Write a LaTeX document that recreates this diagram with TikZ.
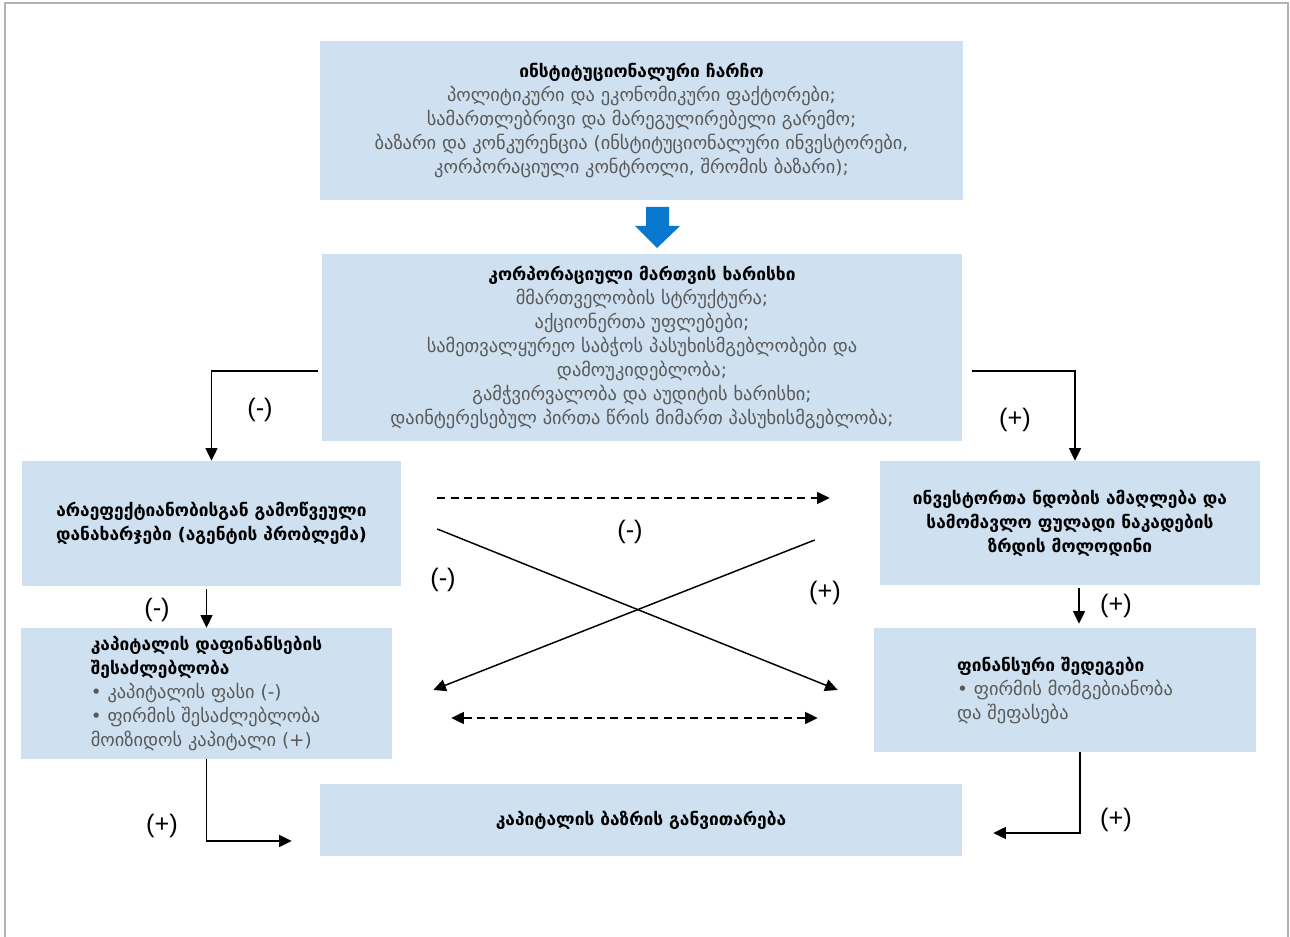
\documentclass[tikz,border=0pt]{standalone}
\usepackage{fontspec}
\setmainfont{Liberation Sans}
\newfontfamily\geo{DejaVu Sans}
\usetikzlibrary{arrows.meta,calc}
\definecolor{BoxBlue}{RGB}{207,224,241}
\definecolor{ArrowBlue}{RGB}{8,120,206}
\definecolor{BodyGray}{RGB}{89,89,89}

\begin{document}
\begin{tikzpicture}[x=0.75pt,y=0.75pt,yscale=-1,xscale=1,
		box/.style={fill=BoxBlue,inner sep=0pt,align=center,text=BodyGray,font=\geo\fontsize{13.8}{18}\selectfont},
		boldbox/.style={box,text=black,font=\geo\bfseries\fontsize{13}{18}\selectfont},
		arr/.style={line width=1.1pt,-{Triangle[length=9.5pt,width=9pt]}},
		dasharr/.style={arr,dash pattern=on 6pt off 4pt},
		sign/.style={inner sep=0pt,font=\fontsize{19}{22}\selectfont}]
		\useasboundingbox (0,0) rectangle (1290,937);

		% Thin gray frame round the page (bottom runs off)
		\draw[gray!60, line width=0.8pt] (5,937) -- (5,3) -- (1288,3) -- (1288,937);

		% Boxes
		\node[box, minimum width=482.25pt, minimum height=119.25pt] (frame) at (641.5,120.5) {{\bfseries\fontsize{13}{18}\selectfont\color{black}ინსტიტუციონალური ჩარჩო}\\
			პოლიტიკური და ეკონომიკური ფაქტორები;\\
			სამართლებრივი და მარეგულირებელი გარემო;\\
			ბაზარი და კონკურენცია (ინსტიტუციონალური ინვესტორები,\\
			კორპორაციული კონტროლი, შრომის ბაზარი);};
		\node[box, minimum width=480pt, minimum height=140.25pt] (quality) at (642,347.5) {{\bfseries\fontsize{13}{18}\selectfont\color{black}კორპორაციული მართვის ხარისხი}\\
			მმართველობის სტრუქტურა;\\
			აქციონერთა უფლებები;\\
			სამეთვალყურეო საბჭოს პასუხისმგებლობები და\\
			დამოუკიდებლობა;\\
			გამჭვირვალობა და აუდიტის ხარისხი;\\
			დაინტერესებულ პირთა წრის მიმართ პასუხისმგებლობა;};
		\node[boldbox, minimum width=284.25pt, minimum height=93.75pt] (costs) at (211.5,523.5) {არაეფექტიანობისგან გამოწვეული\\
			დანახარჯები (აგენტის პრობლემა)};
		\node[boldbox, minimum width=285pt, minimum height=93pt] (trust) at (1070,523) {ინვესტორთა ნდობის ამაღლება და\\
			სამომავლო ფულადი ნაკადების\\
			ზრდის მოლოდინი};
		\node[box, align=left, minimum width=278.25pt, minimum height=98.25pt] (funding) at (206.5,693.5) {{\bfseries\fontsize{13}{18}\selectfont\color{black}კაპიტალის დაფინანსების}\\
			{\bfseries\fontsize{13}{18}\selectfont\color{black}შესაძლებლობა}\\
			• კაპიტალის ფასი (-)\\
			• ფირმის შესაძლებლობა\\
			მოიზიდოს კაპიტალი (+)};
		\node[box, align=left, minimum width=286.5pt, minimum height=93pt] (results) at (1065,690) {{\bfseries\fontsize{13}{18}\selectfont\color{black}ფინანსური შედეგები}\\
			• ფირმის მომგებიანობა\\
			და შეფასება};
		\node[boldbox, minimum width=481.5pt, minimum height=54pt] (market) at (641,820) {კაპიტალის ბაზრის განვითარება};

		% Blue block arrow between the two top boxes
		\fill[ArrowBlue] (646,207) -- (669,207) -- (669,226) -- (680,226) -- (657,248) -- (635,226) -- (646,226) -- cycle;

		% Elbows out of the quality box
		\draw[arr] ($(quality.west)+(-4,23.5)$) -| (costs.north);
		\coordinate (tr) at ($(trust.north)+(5,0)$);
		\draw[arr] ($(quality.east)+(10,23.5)$) -| (tr);

		% Short arrows down the two sides
		\draw[arr] ($(funding.north |- costs.south)+(0,3)$) -- (funding.north);
		\coordinate (rd) at ($(trust.south)+(9,0)$);
		\draw[arr] ($(rd)+(0,3)$) -- ($(rd |- results.north)+(0,-4)$);

		% Middle arrows
		\draw[dasharr] ($(costs.east)+(36,-25.5)$) -- ($(trust.west)+(-50,-25)$);
		\draw[arr] ($(costs.east)+(36,5.5)$) -- ($(results.west)+(-36,0)$);
		\draw[arr] ($(trust.west)+(-65,17)$) -- ($(funding.east)+(41,-3.5)$);
		\draw[dasharr, {Triangle[length=9.5pt,width=9pt]}-{Triangle[length=9.5pt,width=9pt]}] ($(funding.east)+(59,24.5)$) -- ($(results.west)+(-56,28)$);

		% Elbows into the market box
		\draw[arr] (funding.south) |- ($(market.west)+(-28,21)$);
		\coordinate (rb) at ($(results.south)+(15,0)$);
		\draw[arr] (rb) |- ($(market.east)+(31,13)$);

		% Signs
		\node[sign] (s1) at (260,410) {(-)};
		\node[sign] (s2) at (1015,420) {(+)};
		\node[sign] (s3) at (630,532) {(-)};
		\node[sign] (s4) at (443,580) {(-)};
		\node[sign] (s5) at (825,593) {(+)};
		\node[sign] (s6) at (157,610) {(-)};
		\node[sign] (s7) at (1116,606) {(+)};
		\node[sign] (s8) at (162,826) {(+)};
		\node[sign] (s9) at (1116,820) {(+)};
	\end{tikzpicture}
\end{document}
